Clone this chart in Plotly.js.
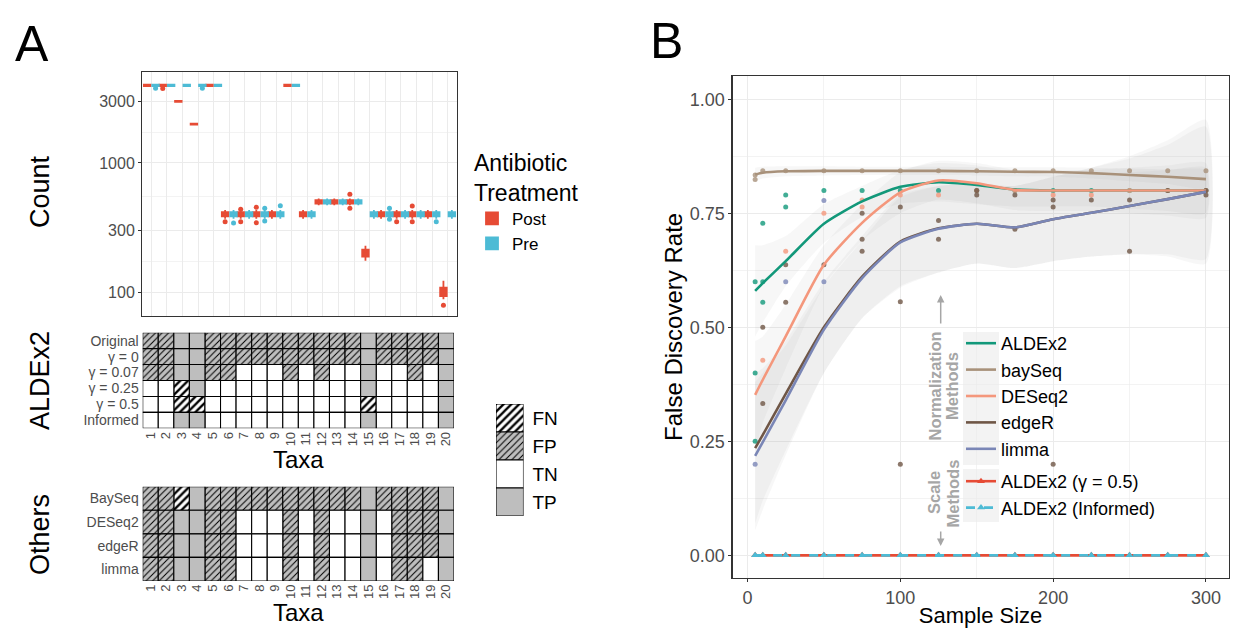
<!DOCTYPE html>
<html><head><meta charset="utf-8">
<script src="https://cdn.plot.ly/plotly-3.0.1.min.js"></script>
<style>html,body{margin:0;padding:0;background:#fff}#plot{width:1233px;height:628px}</style>
</head><body><div id="plot"></div>
<script>
// ---------------- Panel A : counts ----------------
const taxa = [1,2,3,4,5,6,7,8,9,10,11,12,13,14,15,16,17,18,19,20];
const postMedian = [4000,4000,3000,2000,4000,400,400,400,400,4000,400,500,500,500,200,400,400,400,400,100];
const postQ1     = [3950,3950,2970,1980,3950,385,385,385,385,3950,385,485,485,485,188,385,385,385,385,93];
const postQ3     = [4050,4050,3030,2020,4050,415,415,415,415,4050,415,515,515,515,213,415,415,415,415,108];
const postLo     = [3930,3930,2960,1975,3930,370,370,370,370,3930,370,470,470,470,175,370,370,370,370,88];
const postHi     = [4070,4070,3040,2025,4070,432,432,432,432,4070,432,530,530,530,228,432,432,432,432,122];
const preMedian  = [4000,4000,4000,4000,4000,400,400,400,400,4000,400,500,500,500,400,400,400,400,400,400];
const preQ1      = [3950,3950,3950,3950,3950,385,385,385,385,3950,385,485,485,485,385,385,385,385,385,385];
const preQ3      = [4050,4050,4050,4050,4050,415,415,415,415,4050,415,515,515,515,415,415,415,415,415,415];
const preLo      = [3930,3930,3930,3930,3930,370,370,370,370,3930,370,470,470,470,370,370,370,370,370,370];
const preHi      = [4070,4070,4070,4070,4070,432,432,432,432,4070,432,530,530,530,432,432,432,432,432,432];
const postOutTaxa = [2,6,7,7,8,8,14,14,17,18,18,20];
const postOutVal  = [3770,351,438,351,453,344,572,445,351,464,351,79];
const preOutTaxa  = [1,4,6,8,8,9,16,16,19];
const preOutVal   = [3800,3800,342,445,355,467,445,366,351];

// ---------------- Panel A : classification grids ----------------
const aldexRows = ['Original','γ = 0','γ = 0.07','γ = 0.25','γ = 0.5','Informed'];
const aldexData = [
 ['FP','FP','TP','TP','FP','FP','FP','FP','FP','FP','FP','FP','FP','FP','TP','FP','FP','FP','FP','TP'],
 ['FP','FP','TP','TP','FP','FP','FP','FP','FP','FP','FP','FP','FP','FP','TP','FP','FP','FP','FP','TP'],
 ['FP','FP','TP','TP','FP','FP','TN','TN','TN','FP','TN','FP','TN','TN','TP','TN','TN','FP','TN','TP'],
 ['TN','TN','FN','TP','TN','TN','TN','TN','TN','TN','TN','TN','TN','TN','TP','TN','TN','TN','TN','TP'],
 ['TN','TN','FN','FN','TN','TN','TN','TN','TN','TN','TN','TN','TN','TN','FN','TN','TN','TN','TN','TP'],
 ['TN','TN','TP','TP','TN','TN','TN','TN','TN','TN','TN','TN','TN','TN','TP','TN','TN','TN','TN','TP']
];
const otherRows = ['BaySeq','DESeq2','edgeR','limma'];
const otherData = [
 ['FP','FP','FN','TP','FP','FP','FP','FP','FP','FP','FP','FP','FP','FP','TP','FP','FP','FP','FP','TP'],
 ['FP','FP','TP','TP','FP','FP','TN','TN','TN','FP','TN','FP','TN','TN','TP','TN','FP','FP','FP','TP'],
 ['FP','FP','TP','TP','FP','FP','TN','TN','TN','FP','TN','FP','TN','TN','TP','TN','FP','FP','FP','TP'],
 ['FP','FP','TP','TP','FP','FP','TN','TN','TN','FP','TN','FP','TN','TN','TP','TN','FP','FP','TN','TP']
];
const classes = ['FN','FP','TN','TP'];

// ---------------- Panel B : false discovery rate ----------------
const aldexX = [5,5,5,10,10,10,25,25,50,75,100,125,150,175,200,225,250,275,300];
const aldexY = [0.60,0.40,0.25,0.728,0.60,0.555,0.79,0.764,0.80,0.80,0.80,0.80,0.80,0.80,0.80,0.80,0.80,0.80,0.80];
const bayX = [5,5,10,25,50,75,100,125,150,175,200,225,250,275,300];
const bayY = [0.834,0.824,0.843,0.843,0.843,0.843,0.843,0.843,0.843,0.843,0.843,0.843,0.843,0.843,0.843];
const deseqX = [10,25,50,75,75,100,125,150,175,200,225,250,275,300];
const deseqY = [0.428,0.667,0.75,0.779,0.764,0.79,0.79,0.80,0.80,0.79,0.79,0.80,0.80,0.80];
const edgeX = [10,10,25,25,50,75,75,75,100,100,100,125,125,150,150,175,175,200,200,200,225,250,250,275,300,300];
const edgeY = [0.50,0.333,0.637,0.555,0.637,0.75,0.693,0.667,0.764,0.556,0.20,0.734,0.693,0.80,0.79,0.79,0.715,0.779,0.764,0.20,0.779,0.779,0.667,0.80,0.80,0.79];
const limmaX = [5,25,50,50];
const limmaY = [0.20,0.60,0.778,0.60];

const fitX = [5,10,25,50,75,100,125,150,175,200,225,250,275,300];
const aldexFit = [0.58,0.597,0.645,0.727,0.776,0.808,0.818,0.812,0.802,0.80,0.80,0.80,0.80,0.80];
const aldexHi  = [0.68,0.68,0.70,0.77,0.81,0.845,0.86,0.855,0.84,0.835,0.835,0.84,0.845,0.85];
const aldexLo  = [0.48,0.51,0.59,0.685,0.742,0.771,0.776,0.77,0.765,0.765,0.765,0.76,0.755,0.75];
const bayFit = [0.835,0.839,0.842,0.843,0.843,0.843,0.843,0.842,0.841,0.8405,0.838,0.834,0.830,0.825];
const bayHi  = [0.85,0.852,0.853,0.853,0.852,0.852,0.852,0.851,0.851,0.851,0.85,0.848,0.846,0.845];
const bayLo  = [0.82,0.826,0.831,0.833,0.834,0.834,0.834,0.833,0.831,0.83,0.826,0.82,0.814,0.805];
const deseqFit = [0.352,0.385,0.48,0.637,0.729,0.796,0.822,0.816,0.801,0.80,0.80,0.80,0.80,0.80];
const deseqHi  = [0.47,0.48,0.55,0.68,0.77,0.84,0.865,0.86,0.845,0.845,0.845,0.85,0.855,0.86];
const deseqLo  = [0.23,0.29,0.41,0.59,0.69,0.75,0.78,0.772,0.757,0.755,0.755,0.75,0.745,0.74];
const edgeFit = [0.235,0.264,0.354,0.50,0.611,0.688,0.717,0.727,0.719,0.737,0.751,0.766,0.781,0.797];
const edgeHi  = [0.40,0.41,0.47,0.60,0.70,0.79,0.81,0.815,0.81,0.83,0.85,0.875,0.91,0.955];
const edgeLo  = [0.07,0.12,0.23,0.40,0.52,0.59,0.62,0.64,0.63,0.645,0.655,0.66,0.655,0.64];
const limmaFit = [0.218,0.248,0.34,0.495,0.608,0.686,0.716,0.727,0.719,0.737,0.751,0.766,0.781,0.797];
const limmaHi  = [0.38,0.40,0.46,0.59,0.69,0.785,0.81,0.815,0.81,0.83,0.85,0.87,0.90,0.94];
const limmaLo  = [0.055,0.10,0.22,0.40,0.52,0.587,0.62,0.64,0.63,0.645,0.655,0.66,0.66,0.65];

const scaleX = [5,10,25,50,75,100,125,150,175,200,225,250,275,300];
const gamma05Y = [0,0,0,0,0,0,0,0,0,0,0,0,0,0];
const informedY = [0,0,0,0,0,0,0,0,0,0,0,0,0,0];

// ---------------- build ----------------
const W = 1233, H = 628;
const px = (a,b) => [a/W, b/W];
const py = (t,b) => [1-b/H, 1-t/H];
const RED = '#E64B35', BLUE = '#4DBBD5';
const GREY = '#BEBEBE';
const FONT = 'Liberation Sans, Arial, sans-serif';

const traces = [];
traces.push({type:'box', name:'Post', x: taxa.map(t=>t-0.27), q1: postQ1, median: postMedian, q3: postQ3,
  lowerfence: postLo, upperfence: postHi, width: 0.42, whiskerwidth: 0, boxpoints: false,
  fillcolor: RED, line:{color: RED, width: 1.8}, xaxis:'x', yaxis:'y', legend:'legend3', hoverinfo:'skip'});
traces.push({type:'box', name:'Pre', x: taxa.map(t=>t+0.27), q1: preQ1, median: preMedian, q3: preQ3,
  lowerfence: preLo, upperfence: preHi, width: 0.42, whiskerwidth: 0, boxpoints: false,
  fillcolor: BLUE, line:{color: BLUE, width: 1.8}, xaxis:'x', yaxis:'y', legend:'legend3', hoverinfo:'skip'});
traces.push({type:'scatter', mode:'markers', x: postOutTaxa.map(t=>t-0.27), y: postOutVal,
  marker:{color: RED, size: 5}, xaxis:'x', yaxis:'y', showlegend:false, hoverinfo:'skip'});
traces.push({type:'scatter', mode:'markers', x: preOutTaxa.map(t=>t+0.27), y: preOutVal,
  marker:{color: BLUE, size: 5}, xaxis:'x', yaxis:'y', showlegend:false, hoverinfo:'skip'});

const cellStyle = {
  FN: {color:'#FFFFFF', line:{color:'#000', width:1.1}, pattern:{shape:'/', fillmode:'overlay', fgcolor:'#000', fgopacity:1, size:5.5, solidity:0.42}},
  FP: {color: GREY, line:{color:'#000', width:1.1}, pattern:{shape:'/', fillmode:'overlay', fgcolor:'#000', fgopacity:1, size:4.6, solidity:0.22}},
  TN: {color:'#FFFFFF', line:{color:'#000', width:1.1}},
  TP: {color: GREY, line:{color:'#000', width:1.1}}
};
function gridTraces(rowData, xa, ya) {
  const n = rowData.length;
  return classes.map(c => {
    const xs = [], bs = [];
    rowData.forEach((arr, r) => arr.forEach((v, i) => {
      if (v === c) { xs.push(taxa[i]); bs.push(n - r - 0.5); }
    }));
    return {type:'bar', x: xs, y: xs.map(()=>1), base: bs, width: 1, marker: cellStyle[c],
      xaxis: xa, yaxis: ya, showlegend:false, hoverinfo:'skip'};
  });
}
traces.push(...gridTraces(aldexData, 'x2', 'y2'));
traces.push(...gridTraces(otherData, 'x3', 'y3'));
classes.forEach((c, i) => {
  traces.push({type:'bar', x:[1], y:[1], base:[classes.length - i - 0.5], width:1, marker: cellStyle[c],
    xaxis:'x4', yaxis:'y4', showlegend:false, hoverinfo:'skip'});
});

function ribbon(hi, lo) {
  return {type:'scatter', mode:'lines', x: fitX.concat(fitX.slice().reverse()), y: hi.concat(lo.slice().reverse()),
    fill:'toself', fillcolor:'rgba(150,150,150,0.075)', line:{width:0, shape:'spline', smoothing:0.6},
    xaxis:'x5', yaxis:'y5', showlegend:false, hoverinfo:'skip'};
}
traces.push(ribbon(edgeHi, edgeLo), ribbon(limmaHi, limmaLo), ribbon(deseqHi, deseqLo), ribbon(aldexHi, aldexLo), ribbon(bayHi, bayLo));

const methods = [
  {name:'ALDEx2', color:'#12987A', px: aldexX, py: aldexY, fit: aldexFit},
  {name:'baySeq', color:'#A8917A', px: bayX, py: bayY, fit: bayFit},
  {name:'DESeq2', color:'#F4977C', px: deseqX, py: deseqY, fit: deseqFit},
  {name:'edgeR', color:'#6F5646', px: edgeX, py: edgeY, fit: edgeFit},
  {name:'limma', color:'#7A86B6', px: limmaX, py: limmaY, fit: limmaFit}
];
methods.forEach(m => {
  traces.push({type:'scatter', mode:'markers', x: m.px, y: m.py, marker:{color: m.color, size: 5, opacity: 0.8},
    xaxis:'x5', yaxis:'y5', showlegend:false, hoverinfo:'skip'});
});
methods.forEach(m => {
  traces.push({type:'scatter', mode:'lines', name: m.name, x: fitX, y: m.fit, line:{color: m.color, width: 2.6, shape:'spline', smoothing:0.6},
    xaxis:'x5', yaxis:'y5', legend:'legend', hoverinfo:'skip'});
});
traces.push({type:'scatter', mode:'lines+markers', name:'ALDEx2 (γ = 0.5)', x: scaleX, y: gamma05Y,
  line:{color: RED, width: 2.6}, marker:{symbol:'triangle-up', size:7, color: RED},
  xaxis:'x5', yaxis:'y5', legend:'legend2', hoverinfo:'skip'});
traces.push({type:'scatter', mode:'lines+markers', name:'ALDEx2 (Informed)', x: scaleX, y: informedY,
  line:{color: BLUE, width: 2.6, dash:'dash'}, marker:{symbol:'triangle-up', size:7, color: BLUE},
  xaxis:'x5', yaxis:'y5', legend:'legend2', hoverinfo:'skip'});

const axTitleFont = {family: FONT, size: 24, color:'#000'};
const tickGrey = '#4D4D4D';
const noteFont = {size:16.5, color:'#A6A6A6'};
function note(text, x, y, font, angle) {
  return {text: text, x: x/W, y: 1-y/H, xref:'paper', yref:'paper', xanchor:'center', yanchor:'middle',
    showarrow:false, textangle: angle || 0, font: font};
}
const layout = {
  width: W, height: H, margin:{l:0,r:0,t:0,b:0}, paper_bgcolor:'#fff', plot_bgcolor:'rgba(0,0,0,0)',
  font:{family: FONT, color:'#000'}, barmode:'overlay', boxmode:'overlay', showlegend:true,
  xaxis:{domain: px(142,457), range:[0.4,20.6], tickvals: taxa, showticklabels:false, ticks:'',
    showgrid:true, gridcolor:'#EBEBEB', zeroline:false, showline:true, mirror:true, linecolor:'#333', linewidth:1, anchor:'y'},
  yaxis:{domain: py(72,316), type:'log', range:[1.814,3.705], tickvals:[100,300,1000,3000], ticktext:['100','300','1000','3000'],
    ticks:'outside', ticklen:3, tickcolor:'#333', tickfont:{size:16, color: tickGrey}, gridcolor:'#EBEBEB',
    minor:{tickvals:[173,548,1732], showgrid:true, gridcolor:'#EBEBEB', gridwidth:0.6, ticks:''},
    showline:true, mirror:true, linecolor:'#333', linewidth:1, zeroline:false, anchor:'x'},
  xaxis2:{domain: px(142.7,454), range:[0.5,20.5], tickvals: taxa, ticktext: taxa.map(String), tickangle:-90,
    tickfont:{size:13, color: tickGrey}, ticks:'', showgrid:false, zeroline:false, showline:false, anchor:'y2',
    title:{text:'Taxa', font: axTitleFont, standoff: 2}},
  yaxis2:{domain: py(332.7,428.3), range:[0.5,6.5], tickvals:[1,2,3,4,5,6], ticktext: aldexRows.slice().reverse(),
    tickfont:{size:14, color: tickGrey}, ticks:'', showgrid:false, zeroline:false, showline:false, anchor:'x2', ticklabelstandoff:3},
  xaxis3:{domain: px(142.7,454), range:[0.5,20.5], tickvals: taxa, ticktext: taxa.map(String), tickangle:-90,
    tickfont:{size:13, color: tickGrey}, ticks:'', showgrid:false, zeroline:false, showline:false, anchor:'y3',
    title:{text:'Taxa', font: axTitleFont, standoff: 2}},
  yaxis3:{domain: py(486.7,581), range:[0.5,4.5], tickvals:[1,2,3,4], ticktext: otherRows.slice().reverse(),
    tickfont:{size:14, color: tickGrey}, ticks:'', showgrid:false, zeroline:false, showline:false, anchor:'x3', ticklabelstandoff:3},
  xaxis4:{domain: px(496,523.5), range:[0.5,1.5], showticklabels:false, ticks:'', showgrid:false, zeroline:false, showline:false, anchor:'y4'},
  yaxis4:{domain: py(404,516), range:[0.5,4.5], side:'right', tickvals:[1,2,3,4], ticktext: classes.slice().reverse(),
    tickfont:{size:19, color:'#000'}, ticks:'', showgrid:false, zeroline:false, showline:false, anchor:'x4', ticklabelstandoff:8},
  xaxis5:{domain: px(732.6,1228.5), range:[-9.75,314.75], tickvals:[0,100,200,300], ticks:'outside', ticklen:3, tickcolor:'#333',
    tickfont:{size:18, color: tickGrey}, showgrid:true, gridcolor:'#EBEBEB',
    minor:{tickvals:[50,150,250], showgrid:true, gridcolor:'#EBEBEB', gridwidth:0.6, ticks:''},
    zeroline:false, showline:true, mirror:true, linecolor:'#333', linewidth:1.2, anchor:'y5',
    title:{text:'Sample Size', font:{family: FONT, size: 22, color:'#000'}, standoff: 2}},
  yaxis5:{domain: py(76,577.7), range:[-0.049,1.051], tickvals:[0,0.25,0.5,0.75,1], ticktext:['0.00','0.25','0.50','0.75','1.00'],
    ticks:'outside', ticklen:3, tickcolor:'#333', tickfont:{size:18, color: tickGrey}, showgrid:true, gridcolor:'#EBEBEB',
    minor:{tickvals:[0.125,0.375,0.625,0.875], showgrid:true, gridcolor:'#EBEBEB', gridwidth:0.6, ticks:''},
    zeroline:false, showline:true, mirror:true, linecolor:'#333', linewidth:1.2, anchor:'x5',
    title:{text:'False Discovery Rate', font: axTitleFont, standoff: 0}},
  legend:{x: 961/W, y: 1-325/H, xanchor:'left', yanchor:'top', bgcolor:'rgba(0,0,0,0)', font:{size:18, color:'#000'},
    tracegroupgap:0, itemwidth:30},
  legend2:{x: 961/W, y: 1-463/H, xanchor:'left', yanchor:'top', bgcolor:'rgba(0,0,0,0)', font:{size:18, color:'#000'}, itemwidth:30},
  legend3:{x: 472/W, y: 1-141/H, xanchor:'left', yanchor:'top', bgcolor:'rgba(0,0,0,0)', font:{size:17, color:'#000'},
    title:{text:'Antibiotic<br>Treatment', font:{size:23, color:'#000'}}, itemwidth:30},
  shapes:[
    {type:'rect', xref:'paper', yref:'paper', x0:963/W, x1:999/W, y0:1-465/H, y1:1-332/H, fillcolor:'rgba(240,240,240,0.8)', line:{width:0}, layer:'below'},
    {type:'rect', xref:'paper', yref:'paper', x0:963/W, x1:999/W, y0:1-522/H, y1:1-469/H, fillcolor:'rgba(240,240,240,0.8)', line:{width:0}, layer:'below'}
  ],
  annotations:[
    note('A', 32, 44, {size:50, color:'#000'}),
    note('B', 666, 41, {size:50, color:'#000'}),
    note('Count', 40, 192, {size:27, color:'#000'}, -90),
    note('ALDEx2', 40, 381, {size:27, color:'#000'}, -90),
    note('Others', 40, 535, {size:27, color:'#000'}, -90),
    note('<b>Normalization</b>', 934, 386.5, noteFont, -90),
    note('<b>Methods</b>', 952, 386, noteFont, -90),
    note('<b>Scale</b>', 934, 493, noteFont, -90),
    note('<b>Methods</b>', 952, 493.5, noteFont, -90),
    {text:'', x:940.7/W, y:1-295/H, xref:'paper', yref:'paper', showarrow:true, ax:0, ay:30, arrowhead:2, arrowsize:1, arrowwidth:1.5, arrowcolor:'#A6A6A6'},
    {text:'', x:940.7/W, y:1-546/H, xref:'paper', yref:'paper', showarrow:true, ax:0, ay:-16, arrowhead:2, arrowsize:1, arrowwidth:1.5, arrowcolor:'#A6A6A6'}
  ]
};
Plotly.newPlot('plot', traces, layout, {staticPlot:true, displayModeBar:false});
</script></body></html>
